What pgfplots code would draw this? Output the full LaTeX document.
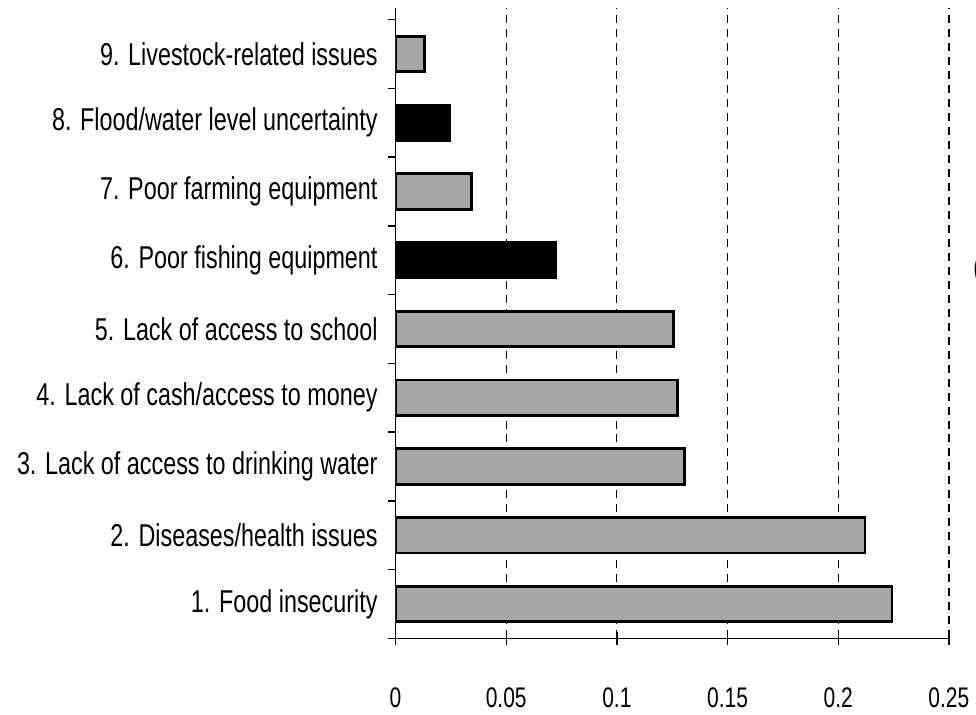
\documentclass[border=0pt]{standalone}
\usepackage{pgfplots}
\pgfplotsset{compat=1.18}
\usepackage{fontspec}
\setmainfont{Liberation Sans}[FakeStretch=0.74]
\usetikzlibrary{calc}

\definecolor{bargray}{RGB}{166,166,166}

\begin{document}
\begin{tikzpicture}
\begin{axis}[
  name=ax,
  scale only axis,
  width=277pt, height=315.5pt,
  xbar, bar width=17.8pt, bar shift=0pt,
  xmin=0, xmax=0.25,
  ymin=0.5, ymax=9.67,
  axis x line*=bottom, axis y line*=left,
  axis line style={line width=0.7pt},
  xtick={0,0.05,0.1,0.15,0.2,0.25},
  xticklabels={0,0.05,0.1,0.15,0.2,0.25},
  xtick align=center, major tick length=6.5pt,
  xtick style={line width=0.7pt, black},
  xmajorgrids,
  grid style={black, line width=0.6pt, dash pattern=on 4pt off 3pt},
  xticklabel style={font=\fontsize{14.2}{16}\selectfont, yshift=-18pt},
  ytick={1,...,9},
  yticklabels={1. Food insecurity,
    2. Diseases/health issues,
    3. Lack of access to drinking water,
    4. Lack of cash/access to money,
    5. Lack of access to school,
    6. Poor fishing equipment,
    7. Poor farming equipment\hspace{4pt},
    8. Flood/water level uncertainty,
    9. Livestock-related issues\hspace{4pt}},
  major y tick style={draw=none},
  minor ytick={0.5,1.5,...,9.5},
  ytick align=outside, minor tick length=4pt,
  minor y tick style={draw=black, line width=0.7pt},
  yticklabel style={font=\fontsize{15.8}{18}\selectfont, anchor=east, xshift=1pt},
]
\addplot[fill=bargray, draw=black, line width=1.4pt]
  coordinates {(0.2243,1) (0.2121,2) (0.1304,3) (0.1273,4) (0.1255,5) (0.0343,7) (0.0131,9)};
\addplot[fill=black, draw=black, line width=1.4pt]
  coordinates {(0.0722,6) (0.0245,8)};
\end{axis}
\path[use as bounding box] ($(ax.south west)+(-198pt,-35pt)$) rectangle ($(ax.north east)+(13pt,4pt)$);
\node[anchor=west, inner sep=0pt, font=\fontsize{15}{18}\selectfont] at ($(ax.north east)+(12pt,-131pt)$) {(};
\end{tikzpicture}
\end{document}
